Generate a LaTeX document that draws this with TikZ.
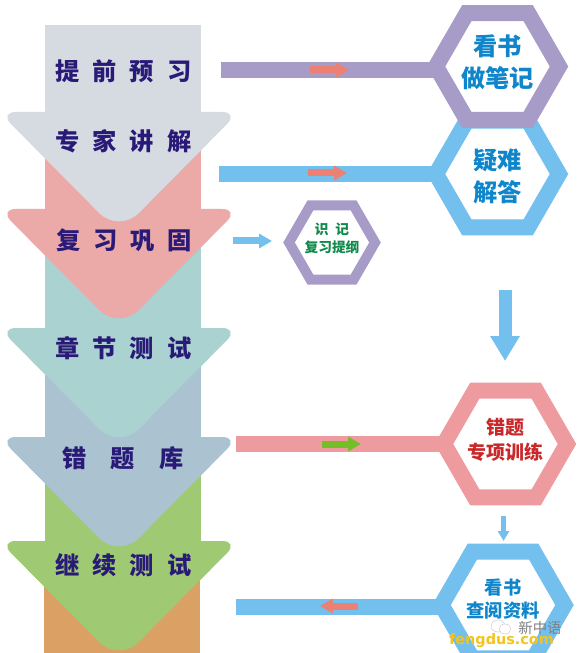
\documentclass[tikz,border=0pt]{standalone}
\usepackage{fontspec}
\newfontfamily\cjk{Noto Sans CJK SC Black}
\newfontfamily\cjkplain{Noto Sans CJK SC}
\newfontfamily\latinb{DejaVu Sans}
\usepackage{tikz}
\usetikzlibrary{arrows.meta, shapes.geometric, positioning, calc}
\definecolor{stepgrey}{HTML}{D6DBE2}
\definecolor{steppink}{HTML}{EBA9A8}
\definecolor{stepteal}{HTML}{A9D2D0}
\definecolor{stepslate}{HTML}{ABC2D1}
\definecolor{stepgreen}{HTML}{9FCA73}
\definecolor{steporange}{HTML}{DBA064}
\definecolor{ringpurple}{HTML}{A79BC8}
\definecolor{ringblue}{HTML}{73BFEE}
\definecolor{ringpink}{HTML}{EE9BA0}
\definecolor{tipsalmon}{HTML}{EC8072}
\definecolor{tipgreen}{HTML}{75BE28}
\definecolor{inkblue}{HTML}{0F86CC}
\definecolor{inknavy}{HTML}{2A1A78}
\definecolor{inkgreen}{HTML}{108A4C}
\definecolor{inkred}{HTML}{C8282A}
\definecolor{markgold}{HTML}{F3C41C}
\tikzset{
  lbl/.style={font=\cjk\fontsize{6.9}{8}\selectfont, text=inknavy, inner sep=0pt},
  hexa/.style={regular polygon, regular polygon sides=6, draw=#1, fill=white, line width=0.16cm,
               minimum size=1.23cm, inner sep=0pt, outer sep=0pt},
  htxt/.style={align=center, inner sep=0pt, text=inkblue, font=\cjk\fontsize{6.9}{9.1}\selectfont},
  bar/.style={line width=0.16cm},
  tip/.style={-{Triangle[length=0.13cm, width=0.14cm]}, line width=0.07cm}
}
\newcommand{\gp}{\hspace{0.13cm}}
\begin{document}
\begin{tikzpicture}
        \useasboundingbox (0,0) rectangle (5.8,-6.53);
        % bottom block first, each step lies over the next one
        \fill[steporange] (0.44,-5.8) rectangle (2.0,-6.53);
        \foreach \col/\ra/\ha in {stepgreen/4.7/5.41, stepslate/3.6/4.37, stepteal/2.4/3.28, steppink/1.4/2.09, stepgrey/0.25/1.12} {
          \fill[\col] (0.45,-\ra) rectangle (2.01,-\ha);
          \fill[\col, rounded corners=0.17cm] (-0.01,-\ha) -- (2.39,-\ha)
            [rounded corners=0.28cm] -- (1.19,-\ha-1.21) [rounded corners=0.17cm] -- cycle;
        }
        \node[lbl] (s1) at (1.235,-0.71) {提\gp 前\gp 预\gp 习};
        \node[lbl] (s2) at (1.235,-1.41) {专\gp 家\gp 讲\gp 解};
        \node[lbl] (s3) at (1.24,-2.40) {复\gp 习\gp 巩\gp 固};
        \node[lbl] (s4) at (1.235,-3.48) {章\gp 节\gp 测\gp 试};
        \node[lbl] (s5) at (1.23,-4.58) {错\hspace{0.24cm}题\hspace{0.24cm}库};
        \node[lbl] (s6) at (1.235,-5.65) {继\gp 续\gp 测\gp 试};

        \node[hexa=ringblue] (hexAnswer) at (4.975,-1.74) {};
        \node[hexa=ringpurple] (hexBook) at (4.975,-0.665) {};
        \node[hexa=ringpurple, line width=0.10cm, minimum size=0.86cm] (hexMemo) at (3.32,-2.425) {};
        \node[hexa=ringpink] (hexDrill) at (5.055,-4.44) {};
        \node[hexa=ringblue] (hexRead) at (5.03,-6.05) {};

        \node[htxt] (txtBook) at ([yshift=0.04cm]hexBook) {看书\\做笔记};
        \node[htxt] (txtAnswer) at ([yshift=-0.02cm]hexAnswer) {疑难\\解答};
        \node[htxt, text=inkgreen, font=\cjk\fontsize{3.9}{5.2}\selectfont] (txtMemo) at ([yshift=0.045cm]hexMemo) {识\hspace{0.07cm}记\\复习提纲};
        \node[htxt, text=inkred, font=\cjk\fontsize{5.4}{7.1}\selectfont] (txtDrill) at ([yshift=0.04cm]hexDrill) {错题\\专项训练};
        \node[htxt, font=\cjk\fontsize{5.2}{6.4}\selectfont] (txtRead) at ([yshift=0.06cm]hexRead) {看书\\查阅资料};

        \coordinate (barA) at (2.21,-0.70);
        \coordinate (barB) at (2.19,-1.74);
        \coordinate (barC) at (2.36,-4.44);
        \coordinate (barD) at (2.36,-6.07);
        \draw[bar, ringpurple] (barA) -- (barA -| hexBook.west);
        \draw[bar, ringblue] (barB) -- (barB -| hexAnswer.west);
        \draw[bar, ringpink] (barC) -- (barC -| hexDrill.west);
        \draw[bar, ringblue] (barD) -- (barD -| hexRead.west);

        \draw[tip, tipsalmon] (3.10,-0.70) -- (3.49,-0.70);
        \draw[tip, tipsalmon] (3.08,-1.73) -- (3.47,-1.73);
        \draw[tip, tipgreen] (3.22,-4.44) -- (3.61,-4.44);
        \draw[tip, tipsalmon] (3.58,-6.06) -- (3.20,-6.06);
        \coordinate (memoOut) at (2.33,-2.41);
        \coordinate (memoIn) at (2.72,-2.41);
        \draw[tip, ringblue] (memoOut) -- (memoIn);

        \coordinate (downA) at (5.05,-2.90);
        \coordinate (downB) at (5.05,-3.61);
        \draw[-{Triangle[length=0.25cm, width=0.28cm]}, line width=0.13cm, ringblue] (downA) -- (downB);
        \coordinate (downC) at (5.035,-5.16);
        \coordinate (downD) at (5.035,-5.41);
        \draw[-{Triangle[length=0.10cm, width=0.11cm]}, line width=0.055cm, ringblue] (downC) -- (downD);

        % watermark
        \fill[white, draw=gray!50, line width=0.1pt] (4.98,-6.26) ellipse (0.07cm and 0.06cm);
        \fill[white, draw=gray!50, line width=0.1pt] (5.05,-6.29) ellipse (0.06cm and 0.05cm);
        \node[inner sep=0pt, text=gray, font=\cjkplain\fontsize{4.1}{5}\selectfont] (markA) at (5.40,-6.28) {新中语};
        \node[inner sep=0pt, text=markgold, font=\latinb\bfseries\fontsize{4.1}{5}\selectfont] (markB) at (5.015,-6.41) {fengdus.com};
      \end{tikzpicture}
\end{document}
